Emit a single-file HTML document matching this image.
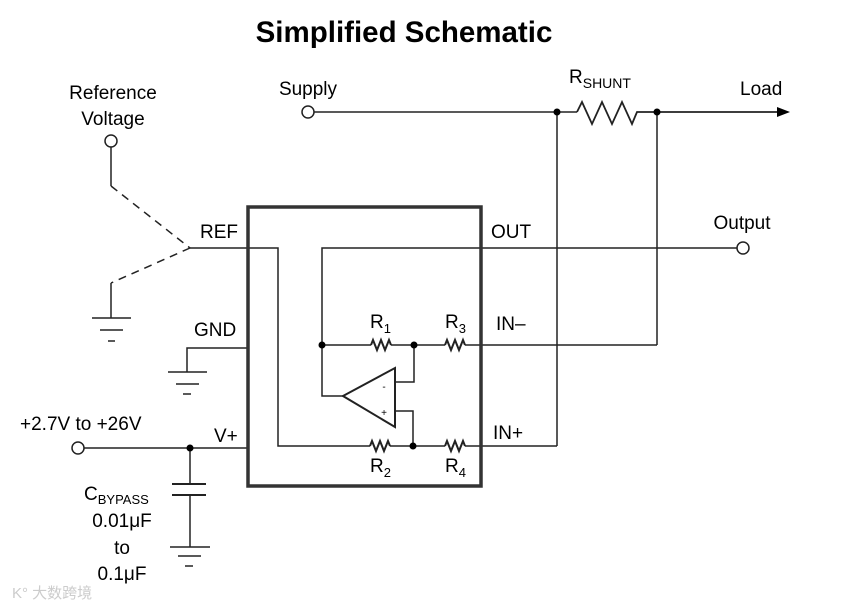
<!DOCTYPE html>
<html><head><style>body{margin:0;background:#fff}svg{display:block}text{font-family:"Liberation Sans",Arial,sans-serif;fill:#000}</style></head><body>
<svg width="849" height="607" viewBox="0 0 849 607" xmlns="http://www.w3.org/2000/svg">
<text x="404" y="42" font-size="29.5" font-weight="bold" text-anchor="middle">Simplified Schematic</text>
<g stroke="#222" stroke-width="1.5" fill="none">
<line x1="313" y1="112" x2="577" y2="112"/>
<polyline points="577,112 582,102 592,124 602,102 612,124 622,102 632,124 637,112 777,112" stroke-width="1.8"/>
<line x1="557" y1="112" x2="557" y2="446"/>
<line x1="657" y1="112" x2="657" y2="345"/>
<line x1="111" y1="147" x2="111" y2="186"/>
<line x1="111" y1="186" x2="190" y2="248" stroke-dasharray="8,6"/>
<line x1="190" y1="248" x2="111" y2="283" stroke-dasharray="8,6"/>
<line x1="111" y1="283" x2="111" y2="318"/>
<line x1="92" y1="318" x2="131" y2="318"/><line x1="100" y1="330" x2="123" y2="330"/><line x1="108" y1="341" x2="115" y2="341"/>
<polyline points="190,248 278,248 278,446 370,446"/>
<polyline points="248,348 187,348 187,372"/>
<line x1="168" y1="372" x2="207" y2="372"/><line x1="176" y1="384" x2="199" y2="384"/><line x1="183" y1="394" x2="191" y2="394"/>
<line x1="84" y1="448" x2="248" y2="448"/>
<line x1="190" y1="448" x2="190" y2="484"/>
<line x1="172" y1="484" x2="206" y2="484" stroke-width="2"/><line x1="172" y1="495" x2="206" y2="495" stroke-width="2"/>
<line x1="190" y1="495" x2="190" y2="547"/>
<line x1="170" y1="547" x2="210" y2="547"/><line x1="178" y1="556" x2="201" y2="556"/><line x1="185" y1="566" x2="193" y2="566"/>
<polyline points="737,248 322,248 322,396 343,396"/>
<line x1="322" y1="345" x2="371" y2="345"/>
<g stroke-width="2">
<polyline points="371,345 373,340 377,350 381,340 385,350 389,340 391,345"/>
<polyline points="445,345 447,340 451,350 455,340 459,350 463,340 465,345"/>
<polyline points="370,446 372,441 376,451 380,441 384,451 388,441 390,446"/>
<polyline points="445,446 447,441 451,451 455,441 459,451 463,441 465,446"/>
</g>
<line x1="391" y1="345" x2="445" y2="345"/><line x1="465" y1="345" x2="657" y2="345"/>
<line x1="390" y1="446" x2="445" y2="446"/><line x1="465" y1="446" x2="557" y2="446"/>
<polyline points="395,382 414,382 414,345"/>
<polyline points="395,411 413,411 413,446"/>
<polygon points="343,396 395,368 395,427" stroke-width="2"/>
<circle cx="308" cy="112" r="6" fill="#fff"/>
<circle cx="111" cy="141" r="6" fill="#fff"/>
<circle cx="743" cy="248" r="6" fill="#fff"/>
<circle cx="78" cy="448" r="6" fill="#fff"/>
<rect x="248" y="207" width="233" height="279" stroke="#333" stroke-width="3.5"/>
</g>
<polygon points="777,107 790,112 777,117" fill="#000"/>
<g fill="#000"><circle cx="557" cy="112" r="3.5"/><circle cx="657" cy="112" r="3.5"/><circle cx="322" cy="345" r="3.5"/><circle cx="414" cy="345" r="3.5"/><circle cx="413" cy="446" r="3.5"/><circle cx="190" cy="448" r="3.5"/></g>
<text x="384" y="390" font-size="10" text-anchor="middle">-</text>
<text x="384" y="416" font-size="10" text-anchor="middle">+</text>
<g font-size="19">
<text x="113" y="99" text-anchor="middle">Reference</text>
<text x="113" y="125" text-anchor="middle">Voltage</text>
<text x="308" y="95" text-anchor="middle">Supply</text>
<text x="569" y="83">R<tspan font-size="14" dy="5">SHUNT</tspan></text>
<text x="740" y="95">Load</text>
<text x="742" y="229" text-anchor="middle">Output</text>
<text x="200" y="238">REF</text>
<text x="491" y="238">OUT</text>
<text x="194" y="336">GND</text>
<text x="496" y="330">IN–</text>
<text x="493" y="439">IN+</text>
<text x="214" y="442">V+</text>
<text x="20" y="430">+2.7V to +26V</text>
<text x="370" y="328" fill="#333">R<tspan font-size="13" dy="5">1</tspan></text>
<text x="445" y="328" fill="#333">R<tspan font-size="13" dy="5">3</tspan></text>
<text x="370" y="472" fill="#333">R<tspan font-size="13" dy="5">2</tspan></text>
<text x="445" y="472" fill="#333">R<tspan font-size="13" dy="5">4</tspan></text>
<text x="84" y="500">C<tspan font-size="13" dy="4">BYPASS</tspan></text>
<text x="122" y="527" text-anchor="middle">0.01μF</text>
<text x="122" y="554" text-anchor="middle">to</text>
<text x="122" y="580" text-anchor="middle">0.1μF</text>
</g>
<text x="12" y="598" font-size="15" style="fill:#ccc">K° 大数跨境</text>
</svg>
</body></html>
